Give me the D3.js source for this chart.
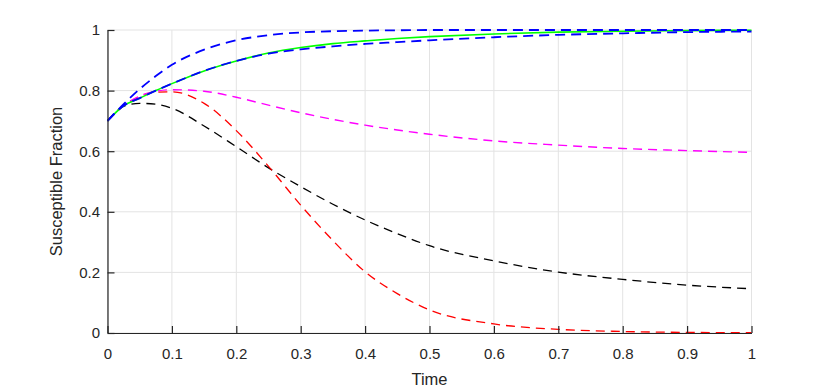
<!DOCTYPE html>
<html>
<head>
<meta charset="utf-8">
<script src="https://cdn.jsdelivr.net/npm/d3@7"></script>
<style>
  body { margin: 0; background: #fff; }
  text { font-family: "Liberation Sans", Arial, sans-serif; }
</style>
</head>
<body>
<div id="chart"></div>
<script>
// time samples shared by every series
var time = [0, 0.025, 0.05, 0.075, 0.1, 0.15, 0.2, 0.25, 0.3, 0.35, 0.4, 0.45, 0.5, 0.6, 0.7, 0.8, 0.9, 1];

var blackS   = [0.7, 0.748, 0.758, 0.755, 0.742, 0.683, 0.615, 0.545, 0.483, 0.425, 0.373, 0.328, 0.288, 0.238, 0.201, 0.177, 0.158, 0.146];
var redS     = [0.7, 0.75, 0.78, 0.795, 0.796, 0.758, 0.668, 0.55, 0.422, 0.305, 0.202, 0.13, 0.076, 0.030, 0.012, 0.005, 0.002, 0.001];
var magentaS = [0.7, 0.75, 0.782, 0.798, 0.803, 0.798, 0.778, 0.752, 0.727, 0.705, 0.686, 0.67, 0.656, 0.634, 0.620, 0.609, 0.602, 0.596];
var greenS   = [0.7, 0.75, 0.775, 0.80, 0.823, 0.865, 0.898, 0.924, 0.942, 0.955, 0.964, 0.972, 0.978, 0.987, 0.993, 0.996, 0.998, 0.999];
var blueLowS = [0.7, 0.75, 0.775, 0.80, 0.823, 0.865, 0.898, 0.922, 0.936, 0.946, 0.954, 0.96, 0.966, 0.976, 0.984, 0.989, 0.993, 0.995];
var blueTopS = [0.7, 0.755, 0.805, 0.848, 0.885, 0.935, 0.966, 0.983, 0.992, 0.996, 0.998, 0.999, 1, 1, 1, 1, 1, 1];

var xTicks = [0, 0.1, 0.2, 0.3, 0.4, 0.5, 0.6, 0.7, 0.8, 0.9, 1];
var yTicks = [0, 0.2, 0.4, 0.6, 0.8, 1];

var series = [
  { vals: blackS,   color: "#000000", width: 1.3, dash: "9,6" },
  { vals: redS,     color: "#ff0000", width: 1.3, dash: "9,6" },
  { vals: magentaS, color: "#ff00ff", width: 1.4, dash: "9,6" },
  { vals: greenS,   color: "#00ff00", width: 1.6, dash: null },
  { vals: blueLowS, color: "#0000ff", width: 1.8, dash: "10,6" },
  { vals: blueTopS, color: "#0000ff", width: 1.8, dash: "10,6" }
];

var width = 830, height = 392;
var margin = { left: 107.5, right: 78.5, top: 30, bottom: 59 };
var w = width - margin.left - margin.right,
    h = height - margin.top - margin.bottom;

var svg = d3.select("#chart").append("svg")
  .attr("width", width)
  .attr("height", height);

var g = svg.append("g")
  .attr("transform", "translate(" + margin.left + "," + margin.top + ")");

var x = d3.scaleLinear().domain([0, 1]).range([0, w]);
var y = d3.scaleLinear().domain([0, 1]).range([h, 0]);

// grid
g.append("g").selectAll("line.vg")
  .data(xTicks).enter().append("line")
  .attr("x1", d => x(d)).attr("x2", d => x(d))
  .attr("y1", 0).attr("y2", h)
  .attr("stroke", "#e3e3e3").attr("stroke-width", 1);

g.append("g").selectAll("line.hg")
  .data(yTicks).enter().append("line")
  .attr("x1", 0).attr("x2", w)
  .attr("y1", d => y(d)).attr("y2", d => y(d))
  .attr("stroke", "#e3e3e3").attr("stroke-width", 1);

// lines
var line = d3.line()
  .x((d, i) => x(time[i]))
  .y(d => y(d))
  .curve(d3.curveMonotoneX);

series.forEach(function (s) {
  g.append("path")
    .datum(s.vals)
    .attr("d", line)
    .attr("fill", "none")
    .attr("stroke", s.color)
    .attr("stroke-width", s.width)
    .attr("stroke-dasharray", s.dash);
});

var fmt = d => String(+d.toFixed(1));

// axes (ticks pointing inwards)
var xAxis = g.append("g")
  .attr("transform", "translate(0," + h + ")")
  .call(d3.axisBottom(x).tickValues(xTicks).tickFormat(fmt)
    .tickSizeInner(-7).tickSizeOuter(0).tickPadding(15));

var yAxis = g.append("g")
  .call(d3.axisLeft(y).tickValues(yTicks).tickFormat(fmt)
    .tickSizeInner(-7).tickSizeOuter(0).tickPadding(7.5));

[xAxis, yAxis].forEach(function (a) {
  a.select(".domain").attr("stroke", "#262626").attr("stroke-width", 1.2);
  a.selectAll(".tick line").attr("stroke", "#262626").attr("stroke-width", 1.2);
  a.selectAll(".tick text")
    .attr("fill", "#262626")
    .style("font-size", "15px")
    .style("font-family", "'Liberation Sans', Arial, sans-serif");
});

// axis labels
svg.append("text")
  .attr("x", margin.left + w / 2)
  .attr("y", 385)
  .attr("text-anchor", "middle")
  .attr("fill", "#262626")
  .style("font-size", "16.5px")
  .text("Time");

svg.append("text")
  .attr("transform", "translate(62," + (margin.top + h / 2) + ") rotate(-90)")
  .attr("text-anchor", "middle")
  .attr("fill", "#262626")
  .style("font-size", "16.5px")
  .text("Susceptible Fraction");
</script>
</body>
</html>
